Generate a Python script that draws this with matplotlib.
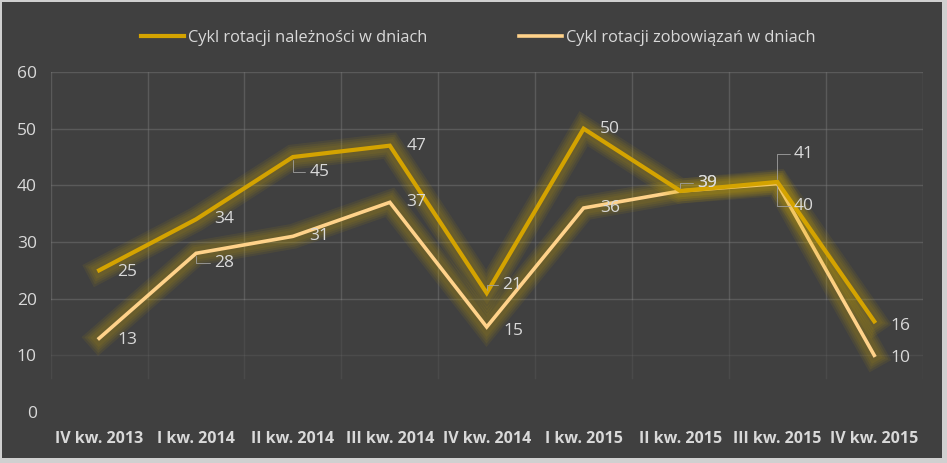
import numpy as np
import matplotlib
matplotlib.use('Agg')
import matplotlib.pyplot as plt
import matplotlib.patheffects as pe
from matplotlib.patches import Rectangle

plt.rcParams['font.family'] = ['Open Sans', 'DejaVu Sans']

categories = ['IV kw. 2013', 'I kw. 2014', 'II kw. 2014', 'III kw. 2014', 'IV kw. 2014',
              'I kw. 2015', 'II kw. 2015', 'III kw. 2015', 'IV kw. 2015']
naleznosci = [25, 34, 45, 47, 21, 50, 39, 40.6, 16]
zobowiazania = [13, 28, 31, 37, 15, 36, 39, 40.3, 10]
name1 = 'Cykl rotacji należności w dniach'
name2 = 'Cykl rotacji zobowiązań w dniach'

# label offsets in points (dx, dy), dy positive = up
off1 = [(20, -1), (20, 0), (19, -11), (19, 0), (18, 6), (19, 0), (19, 6), (19, 20), (19, -3)]
off2 = [(20, -1), (20, -7), (19, 0), (19, 0), (19, -3), (19, 0), (19, 6), (19, -16), (19, -2)]
leader1 = [False, False, True, False, True, False, True, True, False]
leader2 = [False, True, False, False, False, False, False, True, False]

bg = '#404040'
c1 = '#D4A300'
c2 = '#FFD28A'
txt = '#D9D9D9'

fig = plt.figure(figsize=(9.47, 4.63), dpi=100)
fig.patch.set_facecolor('#D0D0D0')
fig.add_artist(Rectangle((2 / 947, 5 / 463), 940 / 947, 456 / 463, transform=fig.transFigure,
                         facecolor=bg, edgecolor='none', zorder=0))

ax = fig.add_axes([50.7 / 947, (463 - 412) / 463, 872 / 947, 340 / 463])
ax.set_facecolor('none')
x = np.arange(len(categories))
ax.set_xlim(-0.5, len(categories) - 0.5)
ax.set_ylim(0, 60)

# gridlines fading toward the bottom
for yv in range(10, 61, 10):
    a = 0.45 if yv >= 20 else 0.2
    ax.axhline(yv, color='#7a7a7a', lw=1, alpha=a, zorder=1)
for xv in np.arange(-0.5, len(categories), 1.0):
    ax.plot([xv, xv], [60, 20], color='#7a7a7a', lw=1, alpha=0.45, zorder=1)
    ax.plot([xv, xv], [20, 6], color='#7a7a7a', lw=1, alpha=0.18, zorder=1)

for s in ax.spines.values():
    s.set_visible(False)
ax.tick_params(length=0)
ax.set_yticks(range(0, 61, 10))
ax.set_yticklabels([str(v) for v in range(0, 61, 10)], color=txt, fontsize=12.5)
ax.tick_params(axis='y', pad=10)
ax.set_xticks(x)
ax.set_xticklabels(categories, color=txt, fontsize=11.5, fontweight='bold')
ax.tick_params(axis='x', pad=14)


def glow(color):
    effs = []
    for w in [18, 15, 12, 9]:
        effs.append(pe.Stroke(linewidth=w, foreground=color, alpha=0.08))
    effs.append(pe.Normal())
    return effs


glow_col = '#D8B000'
l2, = ax.plot(x, zobowiazania, color=c2, lw=2.6, solid_joinstyle='miter', zorder=3,
              path_effects=glow(glow_col), label=name2)
l1, = ax.plot(x, naleznosci, color=c1, lw=3.0, solid_joinstyle='miter', zorder=4,
              path_effects=glow(glow_col), label=name1)

for vals, offs, leads in [(naleznosci, off1, leader1), (zobowiazania, off2, leader2)]:
    for xi, v, (dx, dy), ld in zip(x, vals, offs, leads):
        ax.annotate(str(int(round(v))), (xi, v), xytext=(dx, dy), textcoords='offset points',
                    ha='center', va='center', color=txt, fontsize=12.5, zorder=6)
        if ld:
            ax.annotate('', (xi, v), xytext=(dx - 10, dy), textcoords='offset points',
                        arrowprops=dict(arrowstyle='-', color='#a0a0a0', lw=0.6,
                                        connectionstyle='angle,angleA=0,angleB=90,rad=0',
                                        shrinkA=0, shrinkB=2), zorder=5)

leg = fig.legend(handles=[l1, l2], loc='center', bbox_to_anchor=(0.5 + 5 / 947, 1 - 38 / 463), ncol=2,
                 frameon=False, fontsize=11.8, labelcolor=txt, handlelength=2.6,
                 handletextpad=0.25, columnspacing=5.6)
for h in leg.legend_handles:
    h.set_path_effects([])

fig.savefig('out.png', dpi=100, facecolor=fig.get_facecolor())
